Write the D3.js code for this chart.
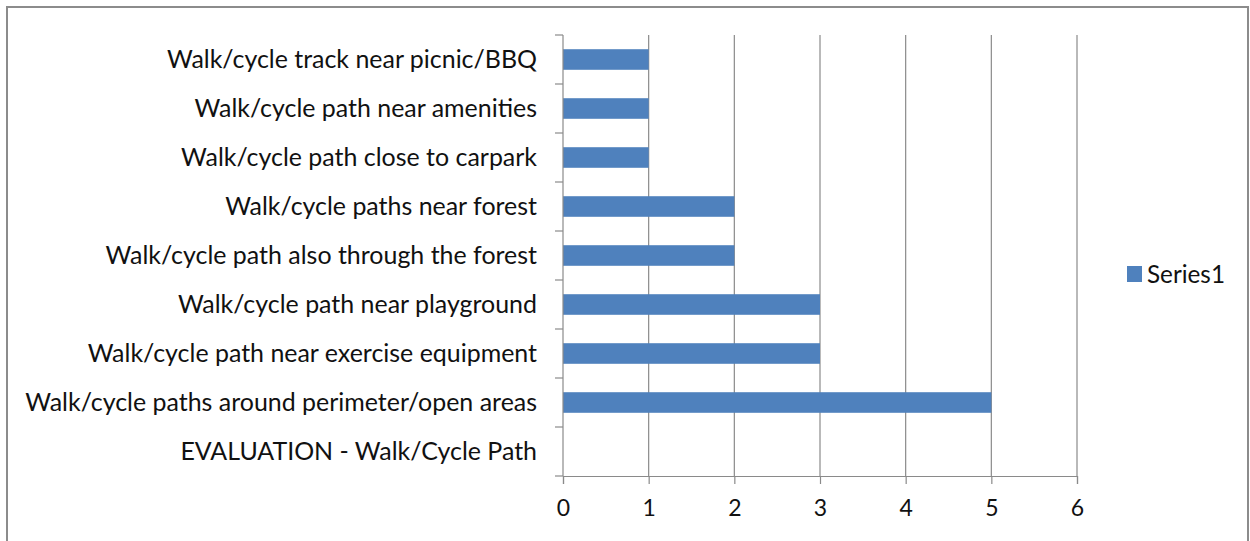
<!DOCTYPE html>
<html>
<head>
<meta charset="utf-8">
<script src="https://cdn.jsdelivr.net/npm/d3@7"></script>
<style>
  body { margin: 0; background: #fff; }
  text { font-family: Lato, "Open Sans", sans-serif; fill: #111; }
</style>
</head>
<body>
<svg id="chart"></svg>
<script>
// categories, top to bottom
let categories = [
  'Walk/cycle track near picnic/BBQ',
  'Walk/cycle path near amenities',
  'Walk/cycle path close to carpark',
  'Walk/cycle paths near forest',
  'Walk/cycle path also through the forest',
  'Walk/cycle path near playground',
  'Walk/cycle path near exercise equipment',
  'Walk/cycle paths around perimeter/open areas',
  'EVALUATION - Walk/Cycle Path'
];
let values = [1, 1, 1, 2, 2, 3, 3, 5, null];
let xTicks = [0, 1, 2, 3, 4, 5, 6];
let seriesName = 'Series1';

let W = 1250, H = 541;
let svg = d3.select('#chart').attr('width', W).attr('height', H);

// outer frame
svg.append('rect')
  .attr('x', 7).attr('y', 7)
  .attr('width', W - 9).attr('height', H + 10)
  .attr('fill', 'none').attr('stroke', '#8c8c8c').attr('stroke-width', 2);

let xScale = d3.scaleLinear().domain([0, 6]).range([563, 1077]);
let yScale = d3.scaleBand().domain(categories).range([35, 476]).paddingInner(0.58).paddingOuter(0.29);

// grid
svg.append('g').selectAll('line')
  .data(xTicks.slice(1))
  .enter().append('line')
  .attr('x1', d => xScale(d)).attr('x2', d => xScale(d))
  .attr('y1', 35).attr('y2', 476)
  .attr('stroke', '#8a8a8a').attr('stroke-width', 1.2);

// bars
svg.append('g').selectAll('rect')
  .data(categories.map((c, i) => ({ c: c, v: values[i] })).filter(d => d.v != null))
  .enter().append('rect')
  .attr('x', xScale(0))
  .attr('y', d => yScale(d.c))
  .attr('width', d => xScale(d.v) - xScale(0))
  .attr('height', yScale.bandwidth())
  .attr('fill', '#4f81bd');

// x axis
let xAxis = d3.axisBottom(xScale).tickValues(xTicks).tickFormat(d3.format('d')).tickSize(8).tickPadding(16);
let xg = svg.append('g').attr('transform', 'translate(0,476)').call(xAxis);
xg.attr('font-size', 23).attr('font-family', null);
xg.selectAll('text').attr('fill', '#111');

// y axis: ticks at band boundaries
let bounds = d3.range(categories.length + 1).map(i => 35 + i * (441 / categories.length));
let yg = svg.append('g');
yg.append('line').attr('x1', 563).attr('x2', 563).attr('y1', 35).attr('y2', 476)
  .attr('stroke', '#8a8a8a').attr('stroke-width', 1.2);
yg.selectAll('.tk').data(bounds).enter().append('line')
  .attr('x1', 555).attr('x2', 563).attr('y1', d => d).attr('y2', d => d)
  .attr('stroke', '#8a8a8a').attr('stroke-width', 1.2);

xg.selectAll('path, line').attr('stroke', '#8a8a8a').attr('stroke-width', 1.2);

let labels = yg.selectAll('.lbl').data(categories).enter().append('text')
  .attr('x', 537)
  .attr('y', d => yScale(d) + yScale.bandwidth() / 2)
  .attr('dy', '0.35em')
  .attr('text-anchor', 'end')
  .style('font-size', '20px')
  .text(d => d);

// fit longest label to the reference width
let maxLen = d3.max(labels.nodes(), n => n.getComputedTextLength());
let fs = 20 * 512 / maxLen;
labels.style('font-size', fs + 'px');

// legend
let lg = svg.append('g').attr('transform', 'translate(1127,266)');
lg.append('rect').attr('width', 15).attr('height', 16).attr('fill', '#4f81bd');
let lt = lg.append('text').attr('x', 20).attr('y', 8).attr('dy', '0.35em')
  .style('font-size', '20px').text(seriesName);
lt.style('font-size', (20 * 78 / lt.node().getComputedTextLength()) + 'px');
</script>
</body>
</html>
